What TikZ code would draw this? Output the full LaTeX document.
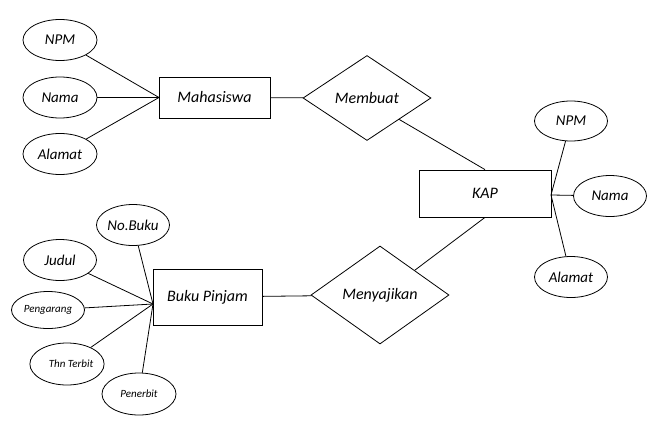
\documentclass[tikz,border=0pt]{standalone}
\usepackage{fontspec}
\setmainfont{Carlito}
\usetikzlibrary{shapes.geometric}
\begin{document}
\begin{tikzpicture}[x=1pt,y=-1pt,line width=0.8pt,
  attr/.style={draw,ellipse,minimum width=74pt,minimum height=41pt,inner sep=0pt,font=\fontsize{15}{15}\selectfont\itshape},
  sattr/.style={attr,font=\fontsize{11}{11}\selectfont\itshape},
  ent/.style={draw,rectangle,inner sep=0pt,font=\fontsize{16}{16}\selectfont\itshape},
  rel/.style={draw,diamond,inner sep=0pt,font=\fontsize{16}{16}\selectfont\itshape}]
\useasboundingbox (0,0) rectangle (656,423);
% Mahasiswa
\node[ent,minimum width=111pt,minimum height=41pt] (mhs) at (214.5,97.5) {Mahasiswa};
\coordinate (hm) at (159,97.5);
\node[attr] (npm1) at (60,40) {NPM};
\node[attr] (nama1) at (60,97.5) {Nama};
\node[attr] (alamat1) at (60,154) {Alamat};
\draw (npm1) -- (hm); \draw (nama1) -- (hm); \draw (alamat1) -- (hm);
\node[rel,minimum width=128pt,minimum height=85pt] (membuat) at (367,98) {Membuat};
\draw (mhs) -- (membuat);
% KAP
\node[ent,minimum width=132pt,minimum height=47pt] (kap) at (485,193.5) {KAP};
\coordinate (hk) at (551,195);
\node[attr,minimum width=73pt,minimum height=40pt] (npm2) at (571,121) {NPM};
\node[attr,minimum width=73pt] (nama2) at (610,196) {Nama};
\node[attr,minimum width=73pt] (alamat2) at (571,277) {Alamat};
\draw (npm2) -- (hk); \draw (nama2) -- (hk); \draw (alamat2) -- (hk);
\draw (membuat.south east) -- (kap.north);
% Menyajikan
\node[rel,minimum width=138pt,minimum height=98pt] (sajik) at (380,295) {Menyajikan};
\draw (sajik.north east) -- (kap.south);
% Buku Pinjam
\node[ent,minimum width=109pt,minimum height=56pt] (buku) at (207.5,297) {Buku Pinjam};
\draw (buku) -- (sajik);
\coordinate (hb) at (153,304);
\node[attr,minimum width=73pt] (nobuku) at (133,225) {No.Buku};
\node[attr,minimum width=73pt] (judul) at (60,260) {Judul};
\node[sattr,minimum width=73pt,minimum height=37pt] (peng) at (48,310) {Pengarang};
\node[sattr,minimum width=73pt,minimum height=42pt] (thn) at (67,364) {\hspace*{8pt}Thn Terbit};
\node[sattr,minimum width=74pt,minimum height=42pt] (pen) at (139,394) {Penerbit};
\draw (nobuku) -- (hb); \draw (judul) -- (hb); \draw (peng) -- (hb);
\draw (thn) -- (hb); \draw (pen) -- (hb);
\end{tikzpicture}
\end{document}
